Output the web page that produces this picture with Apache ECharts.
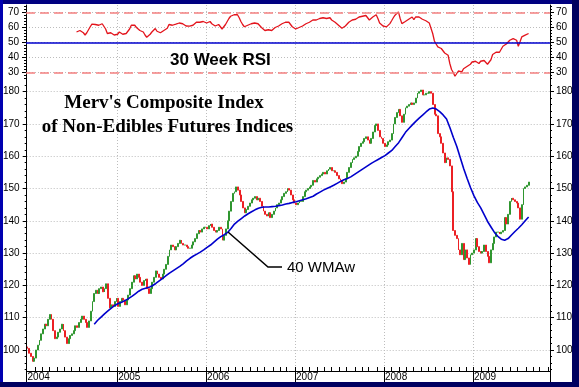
<!DOCTYPE html>
<html><head><meta charset="utf-8">
<script src="https://cdn.jsdelivr.net/npm/echarts@6/dist/echarts.min.js"></script>
<style>html,body{margin:0;padding:0;background:#fff}#c{width:579px;height:387px}</style>
</head><body><div id="c"></div>
<script>
// ---- data ----
const startDate = '2004-01-02';   // first weekly bar
const weekCount = 306;            // weekly slots shown on the axis
const firstOpen = 101;
const closes = [100.5,99,98,96.5,97.5,100,101.5,103,105,106.5,
108,107.5,109.5,111,109.5,106,103.5,104,105.5,106.5,
108,106,104,102,103.5,104.5,105,106,107.5,107,
108.5,109.5,110.5,109.5,108.5,107,109,112,115,117.5,
118.5,117.5,119,119.5,118,119,120.5,116,113,114,
113.5,115,116,113.5,115,116,115.5,114,115.5,117,
119,121,123,122,123.5,122.5,121,120,121.5,122,
119,117.5,119,121,122.5,124.5,123.5,122.5,122,123.5,
125,126.5,129,131,132.5,132,131,132,133,134,
133,132.5,132.5,132,131.5,131.5,132.5,133.5,134.5,136,
137,136.5,137.5,138,138,137.5,138.5,139,138,137,
136.5,137,138,137.5,134,135.5,137.5,140,143,146,
148.5,149,150.5,149.5,148,146,144,142.5,143.5,144.5,
145.5,146.5,147,147.5,146.5,147,146,144.5,143,142,
141.5,142.5,141,142,143,144,145,145.5,146.5,147.5,
148.5,149,150,149.5,148,146.5,145.5,145,145.5,146,
146,147.5,149,149.5,150,150.5,151,152.5,152,153,
153.5,154,154.5,155,154.5,155.5,156,156.5,155.5,155.5,
155,154,153,152.5,151.5,152,153,155,156.5,158,
159,159.5,160,161.5,163,164,164.5,165.5,166,165,
164,165.5,167.5,169.5,170,168,166,165.5,164,163,
163.5,164.5,165,167,170,172,173.5,174.5,172.5,170.5,
173,175,175.5,176,176.5,176,176.5,178,179.5,180,
180.5,179,179,179.5,179.5,180,179.5,176,173,172.5,
167,166,164,161,158,159.5,159,157,149,137,
135.5,134.5,131,129.5,133,128,131,128.5,126.5,129.5,
130,131,134.5,132,130.5,130,130.5,132.5,130.5,129,
127,131,133,135,136.5,136.5,136,136.5,137,141,
139,142,146,147,146.5,146,145.5,144,140.5,145,
150,150.5,151,152];
const rsiStart = 29;              // week index of first RSI value
const rsi30 = [57,57.5,58,58.7,56.5,55,56.5,58.5,60.5,62.2,
62.5,62,61.5,61.5,62,62.5,63,59,56,55.5,
56.5,56,55,56,55.5,57,56,55.5,55,56,
57,59,61.5,61,61.5,60,59,58,58.5,57,
55,53.5,54,55.5,57,58,59.3,57.5,56.4,56.5,
57.5,58,58.2,59.5,62,62.5,61.5,62,62.2,62.5,
63,63.7,62.5,61.5,61,60.5,60.9,61.5,61.5,62.5,
63.5,64.4,63.5,63.8,64,63.5,63,63.5,64,62.5,
61.5,61,61.5,62,61.5,59,60,62,64,66,
67.5,68.5,68.5,69.5,68.5,66.5,64,62,60.5,61,
61.5,62,62.5,63,63,62,62.5,61.5,60,59,
58,57.5,58.5,57.5,58,59,60,60.5,61,61.5,
62.5,63,63.5,64,63.5,62,60.5,59.5,59,59.5,
60,60,61,62,62.5,63,63.5,64,65,64.5,
65,65.5,66,66,66.5,65.5,66,66.5,66.5,65,
64.5,63.5,62.5,61.5,60.5,59.5,60,61,62,63.5,
64.5,65,65.5,65.5,66,67,67.5,67.5,68,68,
66.5,65,66,67,68,68.5,66,63,62,61,
60.5,60.4,61.5,62.6,64.5,66.5,68.2,69.5,70.4,66,
62.6,63.5,64,64.9,65.5,66.5,67,65.3,67,68.2,
67,66,65.5,65,64.5,63.7,63,59.5,56,51,
49,47.1,46.5,46,45,43,42.5,41.5,36,32,
30,27.5,28,31,31,30.4,32.5,33.7,34,34.9,
35.5,37,37.1,37.5,36.5,36,37.5,38.2,38,37.5,
35.5,35,38.5,42,42.7,43.5,43.7,43.5,43.7,47.5,
48.2,49,50,51.5,52,52.6,52,51.5,47.5,50.5,
53.7,54.5,54.9,55.5,56];
const wmaStart = 39;              // week index of first WMA value
const wmaStep = 2;                // WMA read every 2 weeks
const wma40 = [108,109.2,110.2,111.2,112.1,113,113.8,114.4,114.8,115.3,
115.9,116.6,117.4,118.2,118.8,119.1,119.4,119.9,120.6,121.4,
122.2,123,123.8,124.5,125.2,125.9,126.7,127.6,128.4,129.1,
129.7,130.3,131,131.8,132.5,133.4,134.3,135.1,135.7,136.4,
137.6,139,139.9,140.7,141.5,142.2,142.8,143.4,143.9,144.2,
144.3,144.3,144.4,144.5,144.7,144.9,145.2,145.4,145.7,145.9,
146.2,146.5,146.8,147.2,147.6,148.3,148.9,149.5,150,150.5,
151,151.6,152.2,152.7,153.1,153.6,154.3,155,155.7,156.4,
157.1,157.8,158.4,159,159.6,160.2,161,161.8,163,164.2,
165.8,167.4,168.6,169.7,170.8,171.8,172.7,173.7,174.6,174.9,
174.6,173.8,172.8,171.5,168.8,165.8,163,159.6,156.2,153.2,
150.3,147.8,145.7,144,141.9,139.8,138.1,136.4,135.2,134.3,
134,134.5,135.6,136.7,137.7,138.8,140,141.2];
const priceTicks = [100,110,120,130,140,150,160,170,180];
const rsiTicks = [30,40,50,60,70];
const rsiLevels = [70,50,30];

// ---- build ----
const DAY = 864e5;
const t0 = Date.parse(startDate + 'T00:00:00Z');
const weeks = [];
for (let i = 0; i < weekCount; i++) weeks.push(new Date(t0 + i * 7 * DAY).toISOString().slice(0, 10));
const isYearStart = i => i === 0 || weeks[i].slice(0, 4) !== weeks[i - 1].slice(0, 4);
const isMonthStart = i => i === 0 || weeks[i].slice(5, 7) !== weeks[i - 1].slice(5, 7);

const priceMinor = [], rsiMinor = [];
for (let v = 94; v <= 182; v += 2) if (v % 10) priceMinor.push(v);
for (let v = 26; v <= 74; v += 2) if (v % 10) rsiMinor.push(v);

const candles = closes.map((c, i) => { const o = i ? closes[i - 1] : firstOpen; return [o, c, Math.min(o, c), Math.max(o, c)]; });
const rsiData = weeks.map((w, i) => (i >= rsiStart && i - rsiStart < rsi30.length) ? rsi30[i - rsiStart] : null);
const wmaData = wma40.map((v, k) => [wmaStart + k * wmaStep, v]);

const FONT = 'Liberation Sans, Arial, sans-serif';
const lab = { color: '#000', fontSize: 10, fontFamily: FONT };
const dotted = { color: '#bdbdbd', width: 1, type: [1, 2] };

function majorY(grid, pos, min, max, ticks, split) {
  return {
    type: 'value', gridIndex: grid, position: pos, min: min, max: max,
    axisLine: { show: true, lineStyle: { color: '#000', width: 1 } },
    axisTick: { show: true, inside: false, length: 4, customValues: ticks, lineStyle: { color: '#000' } },
    axisLabel: Object.assign({ customValues: ticks, margin: pos === 'left' ? 7 : 6 }, lab),
    splitLine: { show: split, lineStyle: dotted }
  };
}
function minorY(grid, pos, min, max, ticks) {
  return {
    type: 'value', gridIndex: grid, position: pos, min: min, max: max,
    axisLine: { show: false },
    axisTick: { show: true, inside: false, length: 2, customValues: ticks, lineStyle: { color: '#000' } },
    axisLabel: { show: false }, splitLine: { show: false }
  };
}

const option = {
  animation: false,
  backgroundColor: '#fff',
  grid: [
    { left: 26, right: 29, top: 5, height: 75 },
    { left: 26, right: 29, top: 80, bottom: 16 }
  ],
  xAxis: [
    { type: 'category', gridIndex: 0, data: weeks, boundaryGap: true,
      axisLine: { show: false }, axisTick: { show: false }, axisLabel: { show: false },
      splitLine: { show: true, interval: isYearStart, lineStyle: dotted } },
    { type: 'category', gridIndex: 1, data: weeks, boundaryGap: true,
      axisLine: { show: true, lineStyle: { color: '#000', width: 1 } },
      axisTick: { show: true, inside: true, length: 4, interval: isMonthStart, lineStyle: { color: '#000' } },
      axisLabel: { show: false }, splitLine: { show: false } },
    { type: 'category', gridIndex: 1, data: weeks, boundaryGap: true, position: 'bottom',
      axisLine: { show: false },
      axisTick: { show: true, inside: false, length: 11, interval: isYearStart, lineStyle: { color: '#000' } },
      axisLabel: Object.assign({ interval: isYearStart, align: 'left', margin: 1,
        formatter: v => v.slice(0, 4) }, lab),
      splitLine: { show: true, interval: isYearStart, lineStyle: dotted } }
  ],
  yAxis: [
    majorY(0, 'left', 25, 75, rsiTicks, true),
    majorY(0, 'right', 25, 75, rsiTicks, false),
    minorY(0, 'left', 25, 75, rsiMinor),
    minorY(0, 'right', 25, 75, rsiMinor),
    majorY(1, 'left', 93.5, 183.6, priceTicks, true),
    majorY(1, 'right', 93.5, 183.6, priceTicks, false),
    minorY(1, 'left', 93.5, 183.6, priceMinor),
    minorY(1, 'right', 93.5, 183.6, priceMinor)
  ],
  series: [
    { type: 'line', xAxisIndex: 0, yAxisIndex: 0, data: [], silent: true, z: 1,
      markLine: { silent: true, symbol: 'none', label: { show: false },
        data: rsiLevels.map(v => ({ yAxis: v, lineStyle: v === 50
          ? { color: '#0000cc', width: 1.5, type: 'solid' }
          : { color: '#f48080', width: 1.6, type: [9, 5] } })) } },
    { name: 'RSI', type: 'line', xAxisIndex: 0, yAxisIndex: 0, data: rsiData, z: 3,
      symbol: 'none', connectNulls: false, lineStyle: { color: '#e3141c', width: 1.3 } },
    { name: 'Index', type: 'candlestick', xAxisIndex: 1, yAxisIndex: 4, data: candles, z: 2,
      barWidth: 1.4,
      itemStyle: { color: '#2f962f', color0: '#ec2024', borderColor: '#2f962f', borderColor0: '#ec2024', borderWidth: 1 } },
    { name: '40 WMAw', type: 'line', xAxisIndex: 1, yAxisIndex: 4, data: wmaData, z: 4,
      symbol: 'none', lineStyle: { color: '#0000cc', width: 1.6 } }
  ],
  graphic: [
    { type: 'text', x: 170, y: 60, z: 10, style: { text: '30 Week RSI', fill: '#000', font: 'bold 17px ' + FONT, align: 'left', verticalAlign: 'middle' } },
    { type: 'text', x: 164, y: 103.5, z: 10, style: { text: "Merv's Composite Index", fill: '#000', font: 'bold 19px Liberation Serif, Times New Roman, serif', align: 'center', verticalAlign: 'middle' } },
    { type: 'text', x: 167.5, y: 127.5, z: 10, style: { text: 'of Non-Edibles Futures Indices', fill: '#000', font: 'bold 19px Liberation Serif, Times New Roman, serif', align: 'center', verticalAlign: 'middle' } },
    { type: 'polyline', z: 10, shape: { points: [[228, 232], [268, 267], [282, 267]] }, style: { stroke: '#000', lineWidth: 1.5, fill: null } },
    { type: 'text', x: 287, y: 268, z: 10, style: { text: '40 WMAw', fill: '#000', font: '15px ' + FONT, align: 'left', verticalAlign: 'middle' } },
    { type: 'rect', z: 20, shape: { x: 0, y: 0, width: 579, height: 4 }, style: { fill: '#000080' } },
    { type: 'rect', z: 20, shape: { x: 0, y: 0, width: 3, height: 387 }, style: { fill: '#0000b0' } },
    { type: 'rect', z: 20, shape: { x: 572, y: 0, width: 7, height: 387 }, style: { fill: '#000060' } },
    { type: 'rect', z: 20, shape: { x: 0, y: 382, width: 579, height: 5 }, style: { fill: '#000060' } }
  ]
};
echarts.init(document.getElementById('c')).setOption(option);
</script></body></html>
